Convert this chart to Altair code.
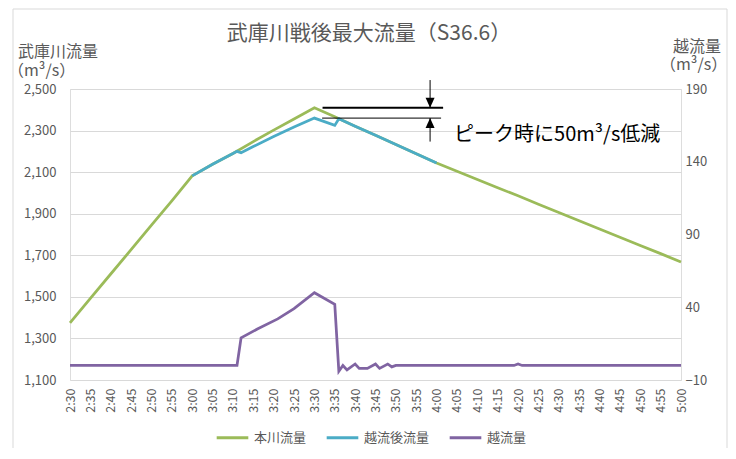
import altair as alt
import pandas as pd

TITLE = "武庫川戦後最大流量（S36.6）"
SERIES = ["本川流量", "越流後流量", "越流量"]
COLORS = ["#9BBB59", "#4BACC6", "#8064A2"]
LEFT_TITLE = ["武庫川流量", "（m³/s）"]
RIGHT_TITLE = ["越流量", "（m³/s）"]
ANNOTATION = "ピーク時に50m³/s低減"

TICK_LABELS = ["2:30", "2:35", "2:40", "2:45", "2:50", "2:55", "3:00", "3:05", "3:10", "3:15",
               "3:20", "3:25", "3:30", "3:35", "3:40", "3:45", "3:50", "3:55", "4:00", "4:05",
               "4:10", "4:15", "4:20", "4:25", "4:30", "4:35", "4:40", "4:45", "4:50", "4:55", "5:00"]
LEFT_TICKS = [1100, 1300, 1500, 1700, 1900, 2100, 2300, 2500]
RIGHT_TICKS = [-10, 40, 90, 140, 190]

# 本川流量 (left axis)
MAIN_TIMES = TICK_LABELS
MAIN_VALUES = [1375, 1493, 1610, 1727, 1845, 1962, 2082, 2138, 2190, 2247,
               2302, 2356, 2410, 2366, 2321, 2277, 2233, 2188, 2144, 2104,
               2065, 2025, 1986, 1946, 1906, 1866, 1826, 1787, 1747, 1708, 1668]

# 越流後流量 (left axis)
AFTER_TIMES = ["3:00", "3:05", "3:10", "3:11", "3:12", "3:15", "3:20", "3:25", "3:30",
               "3:35", "3:36", "3:40", "3:45", "3:50", "3:55", "4:00"]
AFTER_VALUES = [2082, 2138, 2190, 2200, 2193, 2223, 2271, 2317, 2360,
                2325, 2357, 2321, 2277, 2233, 2188, 2144]

# 越流量 (right axis)
OVER_TIMES = ["2:30", "3:11", "3:12", "3:16", "3:21", "3:25", "3:30", "3:35", "3:36", "3:37",
              "3:38", "3:40", "3:41", "3:43", "3:45", "3:46", "3:48", "3:49", "3:50", "4:19",
              "4:20", "4:21", "5:00"]
OVER_VALUES = [0, 0, 19, 25, 32, 39, 50, 42, -4, 0,
               -3, 1, -2, -2, 1, -2, 1, -1, 0, 0,
               1, 0, 0]

FONT = "Noto Sans CJK JP"
GREY = "#595959"


def minutes(label):
    h, m = label.split(":")
    return int(h) * 60 + int(m) - 150


def frame(times, values, name):
    return pd.DataFrame({"t": [minutes(s) for s in times], "v": values, "series": name})


df_main = frame(MAIN_TIMES, MAIN_VALUES, SERIES[0])
df_after = frame(AFTER_TIMES, AFTER_VALUES, SERIES[1])
df_over = frame(OVER_TIMES, OVER_VALUES, SERIES[2])

PEAK = max(MAIN_VALUES)
PEAK_AFTER = max(AFTER_VALUES)

label_expr = ("floor((datum.value+150)/60) + ':' + ((datum.value+150)%60 < 10 ? '0' : '') "
              "+ ((datum.value+150)%60)")

x_scale = alt.Scale(domain=[0, 150], nice=False)
x_axis = alt.Axis(values=[minutes(s) for s in TICK_LABELS], labelExpr=label_expr,
                  labelAngle=270, labelPadding=8, labelFontSize=12.5, labelColor=GREY,
                  labelOverlap=False, labelFlush=False, title=None,
                  domain=False, ticks=False, grid=False, labelFont=FONT)
x_enc = alt.X("t:Q", scale=x_scale, axis=x_axis)

left_scale = alt.Scale(domain=[1100, 2500], nice=False, zero=False)
left_axis = alt.Axis(values=LEFT_TICKS, format=",.0f", grid=True, gridColor="#d9d9d9",
                     domain=False, ticks=False, labelPadding=14, labelFontSize=13,
                     labelColor=GREY, labelFont=FONT, title=None)


def xd(v):
    return alt.X(datum=v, type="quantitative", scale=x_scale, axis=x_axis)


def yd(v):
    return alt.Y(datum=v, type="quantitative", scale=left_scale, axis=left_axis)


color_enc = alt.Color(
    "series:N",
    scale=alt.Scale(domain=SERIES, range=COLORS),
    legend=alt.Legend(title=None, orient="none", legendX=145, legendY=331,
                      direction="horizontal", symbolType="stroke", symbolSize=1000,
                      symbolStrokeWidth=3, labelFontSize=13, labelColor=GREY,
                      columnPadding=13, labelOffset=4, labelFont=FONT),
)

main_line = alt.Chart(df_main).mark_line(strokeWidth=2.75).encode(
    x=x_enc, y=alt.Y("v:Q", scale=left_scale, axis=left_axis), color=color_enc)

after_line = alt.Chart(df_after).mark_line(strokeWidth=2.75).encode(
    x=x_enc, y=alt.Y("v:Q", scale=left_scale, axis=left_axis), color=color_enc)

one = alt.Data(values=[{}])

thick = alt.Chart(one).mark_rule(color="black", strokeWidth=2).encode(
    x=xd(62.0), x2=alt.datum(91.6), y=yd(PEAK))
thin = alt.Chart(one).mark_rule(color="black", strokeWidth=1).encode(
    x=xd(61.9), x2=alt.datum(91.1), y=yd(PEAK_AFTER))
down_tail = alt.Chart(one).mark_rule(color="black", strokeWidth=1).encode(
    x=xd(88.4), y=yd(2543), y2=alt.datum(PEAK))
up_tail = alt.Chart(one).mark_rule(color="black", strokeWidth=1).encode(
    x=xd(88.4), y=yd(2247), y2=alt.datum(PEAK_AFTER))
down_head = alt.Chart(one).mark_point(shape="M0,0L-0.9,-2L0.9,-2Z", filled=True, size=100,
                                      color="black", opacity=1).encode(
    x=xd(88.4), y=yd(PEAK))
up_head = alt.Chart(one).mark_point(shape="M0,0L-0.9,2L0.9,2Z", filled=True, size=100,
                                    color="black", opacity=1).encode(
    x=xd(88.4), y=yd(PEAK_AFTER))
note = alt.Chart(one).mark_text(align="left", baseline="middle", fontSize=20, color="black",
                                font=FONT).encode(
    x=xd(94.3), y=yd(2279), text=alt.value(ANNOTATION))

border = alt.Chart(one).mark_rect(fill="transparent", stroke="#d9d9d9", strokeWidth=1).encode(
    x=alt.value(-57), x2=alt.value(657), y=alt.value(-80), y2=alt.value(380))


def label_text(text, x, y, size, color=GREY, align="left"):
    return alt.Chart(one).mark_text(align=align, baseline="middle", fontSize=size, color=color,
                                    font=FONT).encode(
        x=alt.value(x), y=alt.value(y), text=alt.value(text))


title_mark = label_text(TITLE, 299, -55, 21, align="center")
lt1 = label_text(LEFT_TITLE[0], -52, -37, 16)
lt2 = label_text(LEFT_TITLE[1], -62, -18, 16)
rt1 = label_text(RIGHT_TITLE[0], 603, -42, 16)
rt2 = label_text(RIGHT_TITLE[1], 590, -24, 16)

left_layer = alt.layer(border, main_line, after_line, thick, thin, down_tail, up_tail,
                       down_head, up_head, note, title_mark, lt1, lt2, rt1, rt2)

right_axis = alt.Axis(values=RIGHT_TICKS, orient="right", grid=False, domain=False, ticks=False,
                      labelPadding=4, labelFontSize=13, labelColor=GREY, labelFont=FONT,
                      title=None)

over_line = alt.Chart(df_over).mark_line(strokeWidth=2.75).encode(
    x=x_enc,
    y=alt.Y("v:Q", scale=alt.Scale(domain=[-10, 190], nice=False, zero=False), axis=right_axis),
    color=color_enc)

chart = alt.layer(left_layer, over_line).resolve_scale(y="independent").properties(
    width=611, height=291,
    autosize=alt.AutoSizeParams(type="none"),
    padding={"left": 62, "top": 81, "right": 47, "bottom": 68},
).configure_view(strokeWidth=0).configure(font=FONT)

chart.save("out.html", embed_options={"renderer": "svg", "actions": False})
